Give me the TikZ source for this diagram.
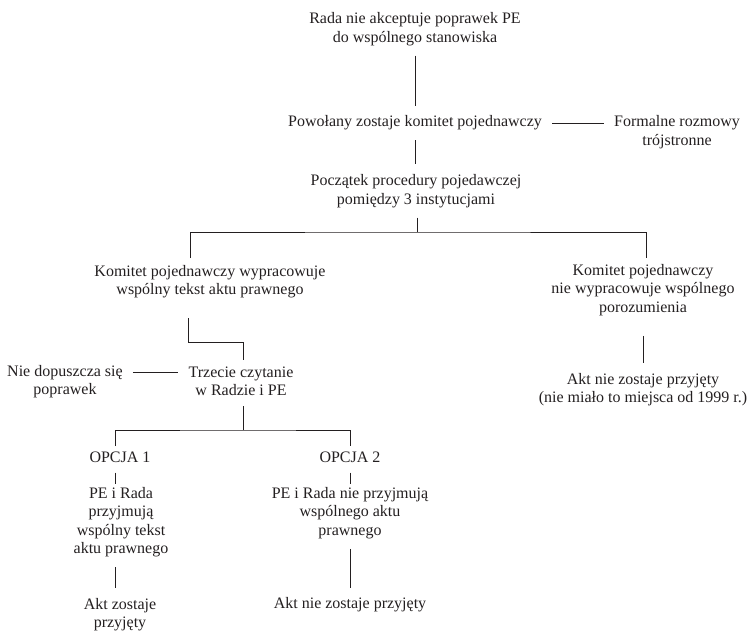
\documentclass[tikz,border=0pt]{standalone}
\usepackage{fontspec}
\setmainfont{Liberation Serif}
\definecolor{ink}{RGB}{35,31,32}
\begin{document}
\begin{tikzpicture}[x=1pt,y=1pt,
  txt/.style={font=\fontsize{16}{18.5}\selectfont, align=center, inner xsep=10pt, inner ysep=10pt, text=ink},
  conn/.style={draw=ink, line width=0.9pt}]
\useasboundingbox (0,0) rectangle (747,-632);
% nodes
\node[txt] (n1) at (415,-29) {Rada nie akceptuje poprawek PE\\do wspólnego stanowiska};
\node[txt] (n2) at (415,-123) {Powołany zostaje komitet pojednawczy};
\node[txt] (fr) at (677,-132) {Formalne rozmowy\\trójstronne};
\node[txt] (n3) at (416,-191) {Początek procedury pojedawczej\\pomiędzy 3 instytucjami};
\node[txt] (kl) at (210,-281.5) {Komitet pojednawczy wypracowuje\\wspólny tekst aktu prawnego};
\node[txt] (kr) at (643,-290) {Komitet pojednawczy\\nie wypracowuje wspólnego\\porozumienia};
\node[txt] (tc) at (241,-381.5) {Trzecie czytanie\\w Radzie i PE};
\node[txt] (nd) at (65,-381.5) {Nie dopuszcza się\\poprawek};
\node[txt] (ar) at (643,-389.5) {Akt nie zostaje przyjęty\\(nie miało to miejsca od 1999 r.)};
\node[txt] (o1) at (120,-457) {OPCJA 1};
\node[txt] (o2) at (350,-457) {OPCJA 2};
\node[txt] (p1) at (121,-522) {PE i Rada\\przyjmują\\wspólny tekst\\aktu prawnego};
\node[txt] (p2) at (350,-513) {PE i Rada nie przyjmują\\wspólnego aktu\\prawnego};
\node[txt] (a1) at (120,-614.5) {Akt zostaje\\przyjęty};
\node[txt] (a2) at (350,-605) {Akt nie zostaje przyjęty};
% junction coordinates
\coordinate (j1) at (417,-232);
\coordinate (ka) at (190,-258);
\coordinate (kb) at (646,-258);
\coordinate (la) at (188,-318);
\coordinate (lb) at (243,-342);
\coordinate (lc) at (243,-360);
\coordinate (j2) at (243,-430);
\coordinate (oa) at (115,-446);
\coordinate (ob) at (350,-446);
% connectors
\draw[conn] (n1.south) -- (n1.south |- n2.north);
\draw[conn] (n2.east) -- (n2.east -| fr.west);
\draw[conn] (n2.south) -- (n2.south |- n3.north);
\draw[conn] (n3.south -| j1) -- (j1);
\draw[conn] (ka) |- (j1) -| (kb);
\draw[conn] (la) |- (lb) -- (lc);
\draw[conn] ([yshift=9.5pt]nd.east) -- ([yshift=9.5pt]nd.east -| tc.west);
\draw[conn] (tc.south -| j2) -- (j2);
\draw[conn] (oa) |- (j2) -| (ob);
\draw[conn] (o1.south -| oa) -- ++(0,-11);
\draw[conn] (o2.south -| ob) -- ++(0,-11);
\draw[conn] (p1.south -| oa) -- (a1.north -| oa);
\draw[conn] (p2.south -| ob) -- (a2.north -| ob);
\draw[conn, shorten <=10pt] (kr.south) -- (kr.south |- ar.north);
\end{tikzpicture}
\end{document}
